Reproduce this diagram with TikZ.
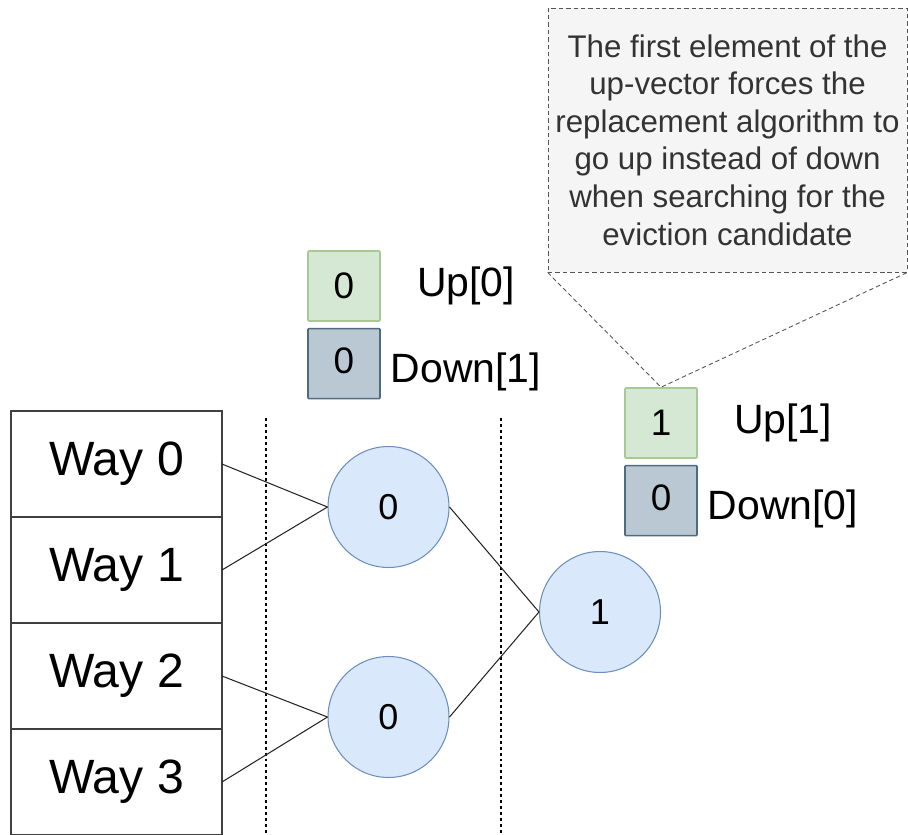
\documentclass[tikz,border=0pt]{standalone}
\usepackage{fontspec}
\setmainfont{Liberation Sans}
\usetikzlibrary{positioning}

\definecolor{nodefill}{HTML}{DAE8FC}
\definecolor{nodeline}{HTML}{6C8EBF}
\definecolor{upfill}{HTML}{D5E8D4}
\definecolor{upline}{HTML}{82B366}
\definecolor{downfill}{HTML}{BAC8D3}
\definecolor{downline}{HTML}{4F6B80}
\definecolor{notefill}{HTML}{F5F5F5}
\definecolor{noteline}{HTML}{555555}

% up/down bit pair of a tree node: name, x, y, up bit, down bit, up index, down index
\newcommand{\bits}[7]{
  \node[upbit] (#1up) at (#2, #3) {#4};
  \node[downbit, below=0.12cm of #1up] (#1down) {\raisebox{0.1cm}{#5}};
  \node[bitlabel] (#1uplbl) at ([xshift=2.44cm]#1up.center) {Up[#6]};
  \node[bitlabel] (#1downlbl) at ([xshift=2.44cm, yshift=-0.16cm]#1down.center) {Down[#7]};
}

\tikzset{
  way/.style={draw=black!75, line width=0.8pt, minimum width=4.22cm, minimum height=2.12cm,
    inner sep=0pt, outer sep=0pt, font=\fontsize{27.4}{30}\selectfont},
  plru/.style={circle, draw=nodeline, fill=nodefill, line width=0.6pt, minimum size=2.42cm,
    inner sep=0pt, font=\fontsize{20.5}{24}\selectfont},
  bitbox/.style={minimum width=1.44cm, minimum height=1.4cm, inner sep=0pt, line width=0.9pt,
    rounded corners=0.5pt, font=\fontsize{21}{24}\selectfont},
  upbit/.style={bitbox, draw=upline!70, fill=upfill},
  downbit/.style={bitbox, draw=downline, fill=downfill},
  bitlabel/.style={inner sep=0pt, font=\fontsize{23.3}{26}\selectfont},
  note/.style={draw=noteline, fill=notefill, dashed, dash pattern=on 2.5pt off 1.7pt, line width=0.5pt,
    minimum width=7.18cm, minimum height=5.28cm, inner sep=0pt, align=center, text=black!80,
    font=\fontsize{17.8}{21.4}\selectfont},
  divider/.style={black, line width=0.6pt, dash pattern=on 1.7pt off 1.7pt},
  wire/.style={black!85, line width=0.6pt}
}

\begin{document}
\begin{tikzpicture}[x=0.02cm, y=-0.02cm]
  \useasboundingbox (0, 0) rectangle (908, 834);

  % the four ways of the set
  \node[way] (w0) at (116.5, 464) {Way 0};
  \node[way] (w1) at (116.5, 570) {Way 1};
  \node[way] (w2) at (116.5, 676) {Way 2};
  \node[way] (w3) at (116.5, 782) {Way 3};

  % tree levels
  \draw[divider] (266, 418) -- (266, 834);
  \draw[divider] (501, 418) -- (501, 834);

  \node[plru] (n0) at (388.5, 507) {0};
  \node[plru] (n1) at (388.5, 717) {0};
  \node[plru] (root) at (600, 612) {1};

  \draw[wire] (w0.east) -- (n0.west);
  \draw[wire] (w1.east) -- (n0.west);
  \draw[wire] (w2.east) -- (n1.west);
  \draw[wire] (w3.east) -- (n1.west);
  \draw[wire] (n0.east) -- (root.west);
  \draw[wire] (n1.east) -- (root.west);

  % up and down vectors
  \bits{a}{344}{286}{0}{0}{0}{1}
  \bits{b}{661}{423}{1}{0}{1}{0}

  % callout
  \node[note] (note) at (727.5, 140) {The first element of the\\up-vector forces the\\replacement algorithm to\\go up instead of down\\when searching for the\\eviction candidate};
  \draw[note, fill=none] (note.south west) -- (bup.north) -- (note.south east);
\end{tikzpicture}
\end{document}
